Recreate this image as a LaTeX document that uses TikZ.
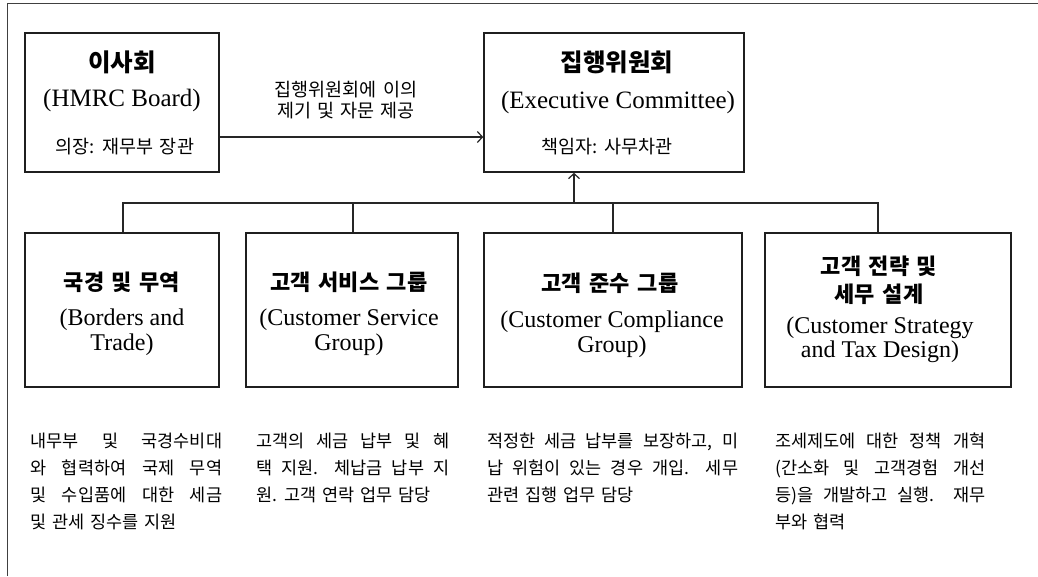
\documentclass[tikz,border=0pt]{standalone}
\usepackage{fontspec}
\setmainfont{Liberation Serif}
\newfontfamily\kr{Noto Sans CJK KR}
\newfontfamily\krwide[WordSpace={1.5,1,2}]{Noto Sans CJK KR}
\usetikzlibrary{arrows.meta}
\newcommand{\jl}[2]{\makebox[#1][s]{#2}}
\tikzset{
	box/.style={draw=black!88, line width=1.6pt, minimum height=154pt, inner sep=0pt},
	ttl/.style={font=\kr\bfseries\fontsize{22}{28}\selectfont, align=center, inner sep=0pt},
	eng/.style={font=\fontsize{24}{24.5}\selectfont, align=center, inner sep=0pt},
	sub/.style={font=\krwide\fontsize{18.5}{21}\selectfont, align=center, inner sep=0pt},
	body/.style={font=\krwide\fontsize{17.5}{27}\selectfont, align=left, anchor=north west, inner sep=0pt},
	link/.style={draw=black!85, line width=1.2pt},
	barb/.style={-{Straight Barb[length=5pt,width=11pt]}},
}

\begin{document}
\begin{tikzpicture}[x=1pt, y=-1pt]
		\useasboundingbox (0,0) rectangle (1038,576);
		\draw[black!75, line width=1pt] (7,576) -- (7,3) -- (1038,3); % frame
		% edit here for the top boxes
		\node[box, minimum width=194pt, minimum height=139pt] (board) at (122,102.5) {};
		\node[box, minimum width=260pt, minimum height=139pt] (exec) at (614,102.5) {};
		\node[ttl, font=\kr\bfseries\fontsize{24.5}{28}\selectfont] (boardT) at (122,62) {이사회};
		\node[eng, font=\fontsize{25}{25}\selectfont] (boardE) at (122,100) {(HMRC Board)};
		\node[sub] (boardS) at (125,147) {의장: 재무부 장관};
		\node[ttl, font=\kr\bfseries\fontsize{24.5}{28}\selectfont] (execT) at (617,62) {집행위원회};
		\node[eng, font=\fontsize{25}{25}\selectfont] (execE) at (618,102) {(Executive Committee)};
		\node[sub] (execS) at (607,147) {책임자: 사무차관};
		\node[sub] (advice) at (346,100) {집행위원회에 이의\\제기 및 자문 제공};
		\draw[link, barb] ([yshift=-34.5pt]board.east) -- ([yshift=-34.5pt]exec.west);
		% edit here for the groups
		\node[box, minimum width=194pt] (bt) at (122,310) {};
		\node[box, minimum width=212pt] (csg) at (352,310) {};
		\node[box, minimum width=258pt] (ccg) at (613,310) {};
		\node[box, minimum width=246pt] (cstd) at (888,310) {};
		\node[ttl] (btT) at (122,282) {국경 및 무역};
		\node[eng] (btE) at (122,332) {(Borders and\\Trade)};
		\node[ttl] (csgT) at (349,282) {고객 서비스 그룹};
		\node[eng] (csgE) at (349,332) {(Customer Service\\Group)};
		\node[ttl] (ccgT) at (610,283) {고객 준수 그룹};
		\node[eng] (ccgE) at (612,334) {(Customer Compliance\\Group)};
		\node[ttl] (cstdT) at (879,280) {고객 전략 및\\세무 설계};
		\node[eng] (cstdE) at (880,340) {(Customer Strategy\\and Tax Design)};
		% edit here for the tree lines
		\coordinate (bus) at (574,203);
		\foreach \b/\dx in {bt/1, csg/1, ccg/0, cstd/-10}
		\draw[link] ([xshift=\dx pt]\b.north) |- (bus);
		\draw[link, barb] (bus) -- (bus |- exec.south);
		% edit here for the notes
		\node[body] (btN) at (30,433) {\jl{192pt}{내무부 및 국경수비대}\\
			\jl{192pt}{와 협력하여 국제 무역}\\
			\jl{192pt}{및 수입품에 대한 세금}\\
			및 관세 징수를 지원};
		\node[body] (csgN) at (256,433) {\jl{193pt}{고객의 세금 납부 및 혜}\\
			\jl{193pt}{택 지원. 체납금 납부 지}\\
			원. 고객 연락 업무 담당};
		\node[body] (ccgN) at (487,433) {\jl{251pt}{적정한 세금 납부를 보장하고, 미}\\
			\jl{251pt}{납 위험이 있는 경우 개입. 세무}\\
			관련 집행 업무 담당};
		\node[body] (cstdN) at (775,433) {\jl{210pt}{조세제도에 대한 정책 개혁}\\
			\jl{210pt}{(간소화 및 고객경험 개선}\\
			\jl{210pt}{등)을 개발하고 실행. 재무}\\
			부와 협력};
	\end{tikzpicture}
\end{document}
